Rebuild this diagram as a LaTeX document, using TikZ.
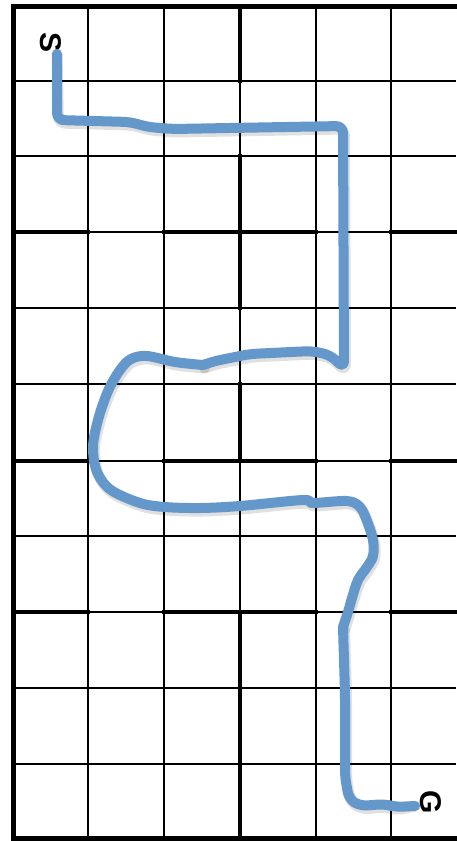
\documentclass[tikz,border=0pt]{standalone}
\usepackage{fontspec}
\setmainfont{Liberation Sans}
\definecolor{trail}{RGB}{100,151,202}
\begin{document}
\begin{tikzpicture}[x=1pt,y=-1pt,
  thin grid/.style={line width=1.3pt,black},
  thick grid/.style={line width=3.6pt,black,line cap=rect},
  border/.style={line width=5pt,black,line cap=rect},
  trailline/.style={line width=10pt,trail,line cap=round,line join=round},
  trailshadow/.style={line width=11pt,black,opacity=0.12,line cap=round,line join=round},
  label/.style={font=\bfseries\fontsize{30}{30}\selectfont,inner sep=0pt,rotate=-90}]
\fill[white] (0,0) rectangle (456,841);
\useasboundingbox (0,0) rectangle (456,841);
% thin grid
\foreach \x in {88,164,240,316,391} \draw[thin grid] (\x,6) -- (\x,838);
\foreach \y in {81,156,232,308,384,461,536,612,688,764} \draw[thin grid] (13,\y) -- (456,\y);
% thick internal lines
\draw[thick grid] (240,6) -- (240,81);
\draw[thick grid] (240,156) -- (240,308);
\draw[thick grid] (240,384) -- (240,461);
\draw[thick grid] (240,612) -- (240,838);
\foreach \y in {232,461,612} {
  \draw[thick grid] (13,\y) -- (88,\y);
  \draw[thick grid] (164,\y) -- (316,\y);
  \draw[thick grid] (391,\y) -- (458,\y);
}
% borders
\draw[border] (458,6) -- (13,6) -- (13,838) -- (458,838);
% labels
\node[label] (S) at (51,43) {S};
\node[label] (G) at (431,802) {G};
\coordinate (start) at (57,54);
\coordinate (goal) at (415,806);
% trail (shadow then line)
\def\trailA{(start) -- (57,120) -- (130,122) -- (148,127) -- (173,129) -- (343,126) -- (344,368) -- (330,355) -- (312,351) -- (250,354) -- (215,361) -- (203,365)}
\def\trailB{plot[smooth,tension=0.55] coordinates {(203,365) (175,362) (147,356) (131,359) (120,370) (108,391) (98,420) (93,447) (97,472) (111,490) (140,503) (165,507) (200,508) (240,506) (303,500) (313,503) (347,501) (360,507) (367,521) (373,540) (373,556) (367,567) (358,580) (352,598) (348,612) (343,627)}}
\def\trailC{(343,627) -- (345,693) -- (345,777) -- (349,799) -- (360,806) -- (385,804) -- (395,807) -- (goal)}
\begin{scope}[shift={(1.5,3)}]
\draw[trailshadow,rounded corners=7pt] \trailA;
\draw[trailshadow] \trailB;
\draw[trailshadow,rounded corners=7pt] \trailC;
\end{scope}
\draw[trailline,rounded corners=7pt] \trailA;
\draw[trailline] \trailB;
\draw[trailline,rounded corners=7pt] \trailC;
\end{tikzpicture}
\end{document}
